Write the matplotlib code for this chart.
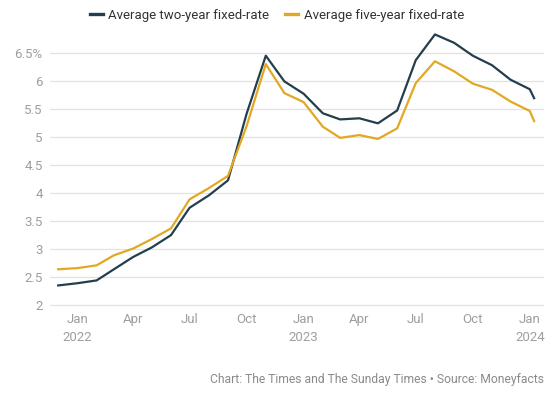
import matplotlib
matplotlib.use('Agg')
import matplotlib.pyplot as plt
import pandas as pd

plt.rcParams['font.family'] = ['Roboto', 'DejaVu Sans']

# monthly averages, Dec 2021 to Jan 2024 (last point is early Jan 2024)
dates = list(pd.date_range('2021-12-01', '2024-01-01', freq='MS')) + [pd.Timestamp('2024-01-08')]
two_year = [2.35, 2.39, 2.44, 2.64, 2.86, 3.03, 3.25, 3.74, 3.96, 4.23, 5.42, 6.46,
            6.00, 5.78, 5.43, 5.32, 5.34, 5.25, 5.48, 6.38, 6.84, 6.69, 6.46, 6.29,
            6.03, 5.86, 5.70]
five_year = [2.64, 2.66, 2.71, 2.89, 3.01, 3.18, 3.37, 3.89, 4.09, 4.31, 5.20, 6.31,
             5.79, 5.63, 5.19, 4.99, 5.04, 4.97, 5.16, 5.97, 6.36, 6.18, 5.96, 5.85,
             5.64, 5.47, 5.29]

yticks = [2, 2.5, 3, 3.5, 4, 4.5, 5, 5.5, 6, 6.5]
ylabels = ['2', '2.5', '3', '3.5', '4', '4.5', '5', '5.5', '6', '6.5%']
xticks = pd.to_datetime(['2022-01-01', '2022-04-01', '2022-07-01', '2022-10-01', '2023-01-01',
                         '2023-04-01', '2023-07-01', '2023-10-01', '2024-01-01'])
xlabels = ['Jan\n2022', 'Apr', 'Jul', 'Oct', 'Jan\n2023', 'Apr', 'Jul', 'Oct', 'Jan\n2024']

dark = '#233f4d'
gold = '#e2a823'
grey = '#9e9e9e'

fig = plt.figure(figsize=(5.54, 3.98), dpi=100)
ax = fig.add_axes([0.0894, 0.2266, 0.8926, 0.7023])

ax.plot(dates, two_year, color=dark, linewidth=1.6, label='Average two-year fixed-rate')
ax.plot(dates, five_year, color=gold, linewidth=1.6, label='Average five-year fixed-rate')

ax.set_ylim(1.95, 6.95)
ax.set_xlim(pd.Timestamp('2021-11-17'), pd.Timestamp('2024-01-24'))
ax.set_yticks(yticks)
ax.set_yticklabels(ylabels)
ax.set_xticks(xticks)
ax.set_xticklabels(xlabels, linespacing=1.45)
ax.tick_params(axis='both', length=0, labelsize=9.5, labelcolor=grey)
ax.tick_params(axis='y', pad=5)
ax.tick_params(axis='x', pad=4)
ax.grid(axis='y', color='#e2e2e2', linewidth=0.9)
ax.set_axisbelow(True)
for s in ax.spines.values():
    s.set_visible(False)

leg = fig.legend(loc='center', bbox_to_anchor=(0.5, 1 - 15/398), ncol=2, frameon=False,
                 fontsize=9.5, handlelength=1.0, handletextpad=0.4, columnspacing=1.2)
for h in leg.get_lines():
    h.set_linewidth(2.4)
for t in leg.get_texts():
    t.set_color('#333333')

fig.text(544/554, 1 - 379/398, 'Chart: The Times and The Sunday Times \u2022 Source: Moneyfacts',
         ha='right', va='center', fontsize=8.7, color='#8a8a8a')

fig.savefig('out.png', dpi=100)
